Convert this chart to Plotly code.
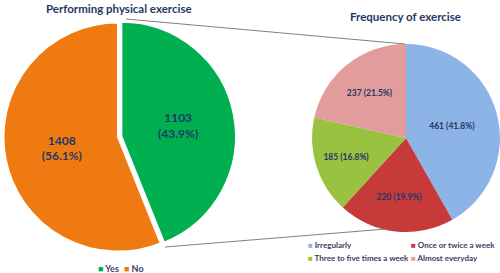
import plotly.graph_objects as go

# ---- data ----
exercise_labels = ["Yes", "No"]
exercise_values = [1103, 1408]
exercise_colors = ["#00B050", "#EF7A12"]

freq_labels = ["Irregularly", "Once or twice a week", "Three to five times a week", "Almost everyday"]
freq_values = [461, 220, 185, 237]
freq_colors = ["#8DB4E6", "#C63A3A", "#98C240", "#E39C9C"]

title_left = "Performing physical exercise"
title_right = "Frequency of exercise"

W, H = 500, 273
FONT = "Lato"
NAVY = "#1F3864"

def px(x):
    return x / W

def py(y):
    return 1 - y / H

fig = go.Figure()

# left pie: centre (118,137), r ~115
fig.add_trace(go.Pie(
    labels=exercise_labels, values=exercise_values,
    sort=False, direction="clockwise", rotation=0,
    marker=dict(colors=exercise_colors, line=dict(color="white", width=2)),
    pull=[0.03, 0],
    texttemplate="%{value}<br>(%{percent:.1%})",
    textposition="inside", insidetextorientation="horizontal",
    textfont=dict(family=FONT, size=12, color=NAVY, weight="bold"),
    domain=dict(x=[0, 0.472], y=[py(255.5), py(18.5)]),
    showlegend=False, hoverinfo="label+value+percent",
))

# right pie: centre (406,138), r ~94
fig.add_trace(go.Pie(
    labels=freq_labels, values=freq_values,
    sort=False, direction="clockwise", rotation=0,
    marker=dict(colors=freq_colors, line=dict(color="white", width=0)),
    texttemplate="%{value} (%{percent:.1%})",
    textposition="inside", insidetextorientation="horizontal",
    textfont=dict(family=FONT, size=8.5, color=NAVY, weight="bold"),
    domain=dict(x=[px(312), 1.0], y=[py(232), py(44)]),
    showlegend=False, hoverinfo="label+value+percent",
))

annotations = [
    dict(text="<b>" + title_left + "</b>", x=px(119), y=py(8), xref="paper", yref="paper",
         showarrow=False, font=dict(family=FONT, size=11.5, color=NAVY), xanchor="center", yanchor="middle"),
    dict(text="<b>" + title_right + "</b>", x=px(405), y=py(16), xref="paper", yref="paper",
         showarrow=False, font=dict(family=FONT, size=11.5, color=NAVY), xanchor="center", yanchor="middle"),
]

# manual legends
left_leg_x = [96, 122]
for i, lab in enumerate(exercise_labels):
    annotations.append(dict(
        text=f"<span style='color:{exercise_colors[i]}'>■</span> {lab}",
        x=px(left_leg_x[i]), y=py(268), xref="paper", yref="paper", showarrow=False,
        xanchor="left", yanchor="middle",
        font=dict(family=FONT, size=9, color="#3A4060", weight="bold")))

right_leg_pos = [(306, 245), (409, 245), (306, 258), (409, 258)]
for i, lab in enumerate(freq_labels):
    x, y = right_leg_pos[i]
    annotations.append(dict(
        text=f"<span style='color:{freq_colors[i]}'>■</span> {lab}",
        x=px(x), y=py(y), xref="paper", yref="paper", showarrow=False,
        xanchor="left", yanchor="middle",
        font=dict(family=FONT, size=8, color="#3A4060", weight="bold")))

shapes = [
    dict(type="line", xref="paper", yref="paper", x0=px(126), y0=py(19), x1=px(405), y1=py(44),
         line=dict(color="#808080", width=1)),
    dict(type="line", xref="paper", yref="paper", x0=px(165), y0=py(247), x1=px(386), y1=py(229),
         line=dict(color="#808080", width=1)),
]

fig.update_layout(
    width=W, height=H,
    margin=dict(l=0, r=0, t=0, b=0),
    paper_bgcolor="white", plot_bgcolor="white",
    annotations=annotations, shapes=shapes,
    font=dict(family=FONT),
)

fig.write_html("out.html", config={"displayModeBar": False},
               post_script="document.body.style.margin='0';")
